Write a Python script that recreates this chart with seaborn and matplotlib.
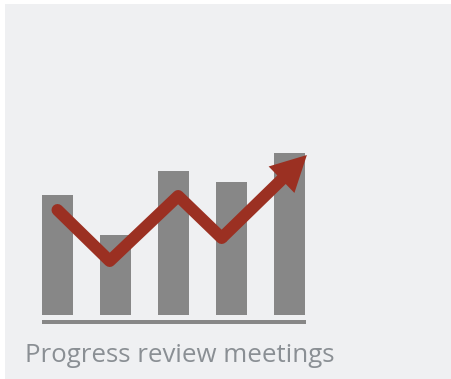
import matplotlib
matplotlib.use("Agg")
import matplotlib.pyplot as plt
from matplotlib.patches import Rectangle
import seaborn as sns
import pandas as pd

# Meeting-by-meeting scores shown as bars, with a trend line drawn on top
meetings = ["M1", "M2", "M3", "M4", "M5"]
scores = [120, 80, 144, 133, 162]
trend_pos = [0.0, 0.9, 2.08, 2.83, 4.3]
trend_vals = [105, 54, 119, 77, 160]
title = "Progress review meetings"

BAR = "#878787"
TREND = "#9b3022"
PANEL = "#eff0f2"
TEXT = "#8a8f94"

sns.set_theme(style="white")
plt.rcParams["font.family"] = ["Open Sans", "DejaVu Sans"]

W, H, DPI = 451, 379, 100
fig = plt.figure(figsize=(W / DPI, H / DPI), dpi=DPI, facecolor="white")

# light card behind the chart
fig.patches.append(Rectangle((5 / W, 0), 1 - 5 / W, 1 - 4 / H,
                             transform=fig.transFigure, facecolor=PANEL,
                             edgecolor="none", zorder=-10))

ax = fig.add_axes([42 / W, (H - 322) / H, 264 / W, 172 / H])
ax.set_facecolor("none")
ax.set_zorder(1)

df = pd.DataFrame({"meeting": meetings, "score": scores})
sns.barplot(data=df, x="meeting", y="score", color=BAR, saturation=1,
            width=31 / 58, linewidth=0, ax=ax)

# trend line with a rounded start and an arrowhead at the end
ax.plot(trend_pos[:-1], trend_vals[:-1], color=TREND, lw=8.64,
        solid_capstyle="round", solid_joinstyle="round", clip_on=False,
        zorder=5)
ax.annotate("", xy=(trend_pos[-1], trend_vals[-1]),
            xytext=(trend_pos[-2], trend_vals[-2]),
            xycoords="data", annotation_clip=False,
            arrowprops=dict(arrowstyle="simple,head_length=25.5,head_width=26.6,tail_width=8.64",
                            mutation_scale=1, lw=0, color=TREND,
                            shrinkA=0, shrinkB=0),
            zorder=6)

ax.set_xlim(-15.5 / 58, 248.5 / 58)
ax.set_ylim(-7, 165)
ax.set_xlabel("")
ax.set_ylabel("")
ax.set_xticks([])
ax.set_yticks([])
for side in ("top", "left", "right"):
    ax.spines[side].set_visible(False)
ax.spines["bottom"].set_color(BAR)
ax.spines["bottom"].set_linewidth(2.88)
ax.spines["bottom"].set_capstyle("butt")

fig.text(25 / W, (H - 362) / H, title, fontsize=18.6, color=TEXT,
         ha="left", va="baseline", fontweight="normal")

fig.savefig("out.png", dpi=DPI, facecolor="white")
